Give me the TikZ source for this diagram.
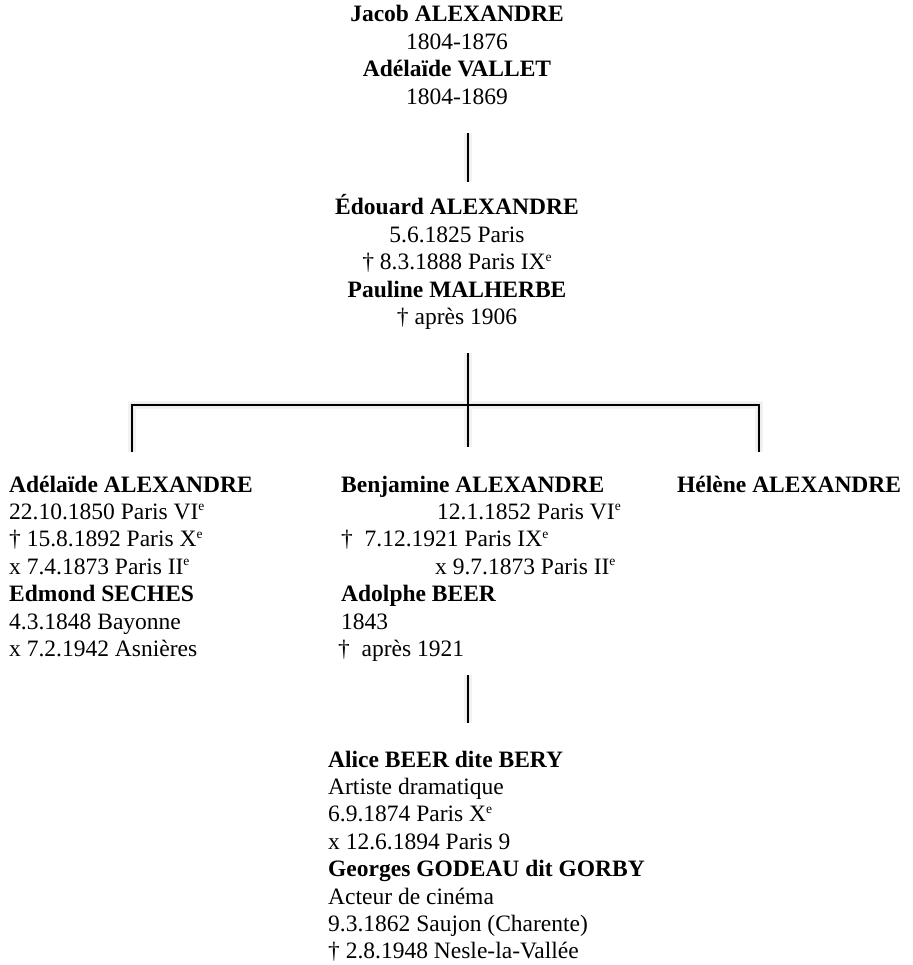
\documentclass[tikz,border=0pt]{standalone}
\usepackage{fontspec}
\setmainfont{Liberation Serif}
\newcommand\supe{\raisebox{0.36em}{\fontsize{13.5pt}{13.5pt}\selectfont e}}
\begin{document}
\begin{tikzpicture}[x=1pt,y=-1pt,
  person/.style={inner sep=0pt, font=\fontsize{23.5pt}{27.4pt}\selectfont},
  link/.style={line width=2.2pt, black, line join=miter},
  linkshadow/.style={line width=8pt, black!5, shift={(2.5,4)}},
  linkshadowb/.style={line width=3.5pt, black!8, shift={(2,3)}}]
\useasboundingbox (0,0) rectangle (912,965);

% persons
\node[person, anchor=base] (jacob) at (457,22) {\begin{tabular}[t]{@{}c@{}}\textbf{Jacob ALEXANDRE}\\1804-1876\\\textbf{Adélaïde VALLET}\\1804-1869\end{tabular}};
\node[person, anchor=base] (edouard) at (457,215) {\begin{tabular}[t]{@{}c@{}}\textbf{Édouard ALEXANDRE}\\5.6.1825 Paris\\† 8.3.1888 Paris IX\supe\\\textbf{Pauline MALHERBE}\\† après 1906\end{tabular}};
\node[person, anchor=base west] (adelaide) at (9,492) {\begin{tabular}[t]{@{}l@{}}\textbf{Adélaïde ALEXANDRE}\\22.10.1850 Paris VI\supe\\† 15.8.1892 Paris X\supe\\x 7.4.1873 Paris II\supe\\\textbf{Edmond SECHES}\\4.3.1848 Bayonne\\x 7.2.1942 Asnières\end{tabular}};
\node[person, anchor=base west] (benjamine) at (341,492) {\begin{tabular}[t]{@{}l@{}}\textbf{Benjamine ALEXANDRE}\\\hspace*{96pt}12.1.1852 Paris VI\supe\\†~~7.12.1921 Paris IX\supe\\\hspace*{94pt}x 9.7.1873 Paris II\supe\\\textbf{Adolphe BEER}\\1843\\\hspace*{-3pt}†~~après 1921\end{tabular}};
\node[person, anchor=base west] (helene) at (677,492) {\textbf{Hélène ALEXANDRE}};
\node[person, anchor=base west] (alice) at (328,767) {\begin{tabular}[t]{@{}l@{}}\textbf{Alice BEER dite BERY}\\Artiste dramatique\\6.9.1874 Paris X\supe\\x 12.6.1894 Paris 9\\\textbf{Georges GODEAU dit GORBY}\\Acteur de cinéma\\9.3.1862 Saujon (Charente)\\† 2.8.1948 Nesle-la-Vallée\end{tabular}};

% connector points
\coordinate (j1) at (468,133);
\coordinate (j2) at (468,182);
\coordinate (e1) at (468,353);
\coordinate (e2) at (468,447);
\coordinate (hl) at (132,405);
\coordinate (hr) at (759,405);
\coordinate (al) at (132,452);
\coordinate (hel) at (759,452);
\coordinate (b1) at (468,675);
\coordinate (b2) at (468,723);

% shadows
\foreach \s in {linkshadow,linkshadowb}{
  \draw[\s] (j1) -- (j2);
  \draw[\s] (e1) -- (e2);
  \draw[\s] (al) -- (hl) -- (hr) -- (hel);
  \draw[\s] (b1) -- (b2);
}
% connectors
\draw[link] (j1) -- (j2);
\draw[link] (e1) -- (e2);
\draw[link] (al) -- (hl) -- (hr) -- (hel);
\draw[link] (b1) -- (b2);
\end{tikzpicture}
\end{document}
